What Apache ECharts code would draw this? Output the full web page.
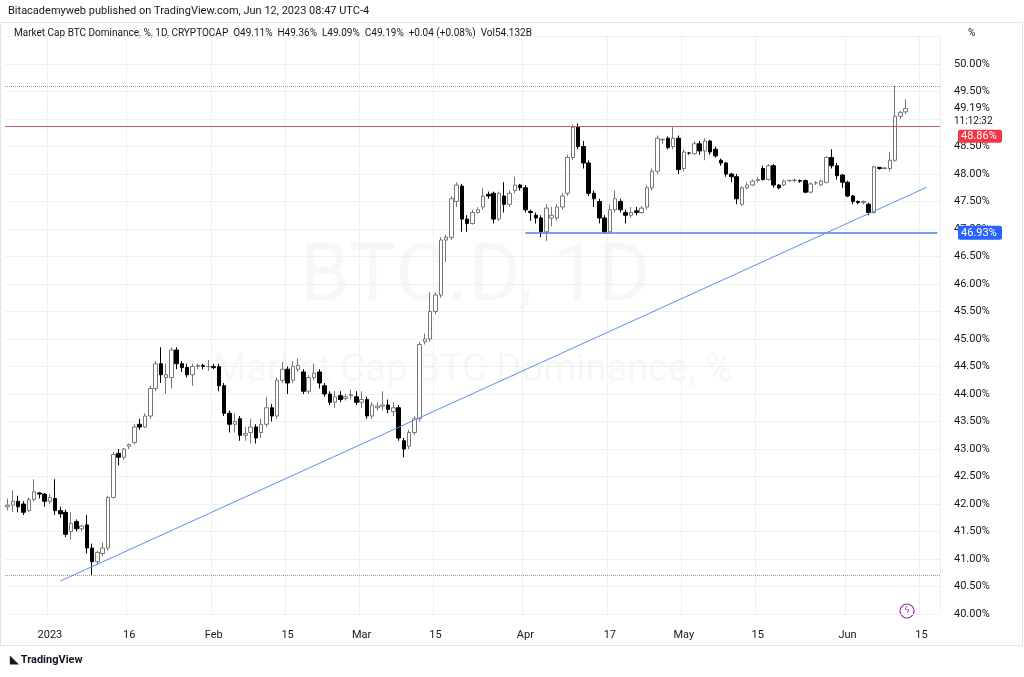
<!DOCTYPE html>
<html><head><meta charset="utf-8">
<script src="https://cdn.jsdelivr.net/npm/echarts@6/dist/echarts.min.js"></script>
<style>html,body{margin:0;padding:0;background:#fff}#c{width:1024px;height:677px}</style>
</head><body><div id="c"></div>
<script>
// [open, close, low, high]
const candles = [
[41.95,41.98,41.88,42.1],[41.98,42.05,41.85,42.25],[42.05,41.95,41.85,42.15],[42.0,41.85,41.8,42.05],
[41.88,42.08,41.85,42.12],[42.08,42.22,42.05,42.45],[42.2,42.18,42.1,42.22],[42.18,42.05,41.95,42.2],
[42.05,42.12,42.0,42.18],[42.1,41.88,41.8,42.45],[41.88,41.82,41.75,41.95],[41.85,41.45,41.4,41.9],
[41.5,41.65,41.35,41.85],[41.68,41.55,41.5,41.72],[41.55,41.6,41.5,41.62],[41.62,41.2,41.1,41.8],
[41.2,40.95,40.7,41.28],[40.95,41.12,40.9,41.15],[41.1,41.2,41.05,41.3],[41.2,42.12,41.15,42.15],
[42.12,42.9,42.1,42.95],[42.92,42.85,42.7,43.0],[42.85,43.0,42.8,43.02],[43.05,43.08,43.0,43.1],
[43.12,43.4,43.08,43.45],[43.45,43.4,43.35,43.55],[43.4,43.6,43.38,43.65],[43.6,44.1,43.55,44.15],
[44.1,44.55,44.05,44.6],[44.55,44.35,44.2,44.85],[44.3,44.35,44.0,44.55],[44.3,44.8,44.1,44.85],
[44.8,44.55,44.45,44.85],[44.55,44.48,44.4,44.6],[44.48,44.35,44.3,44.55],[44.35,44.5,44.15,44.55],
[44.5,44.52,44.45,44.55],[44.52,44.5,44.45,44.55],[44.5,44.5,44.42,44.62],[44.5,44.48,44.45,44.55],
[44.5,44.15,44.05,44.55],[44.15,43.65,43.6,44.2],[43.65,43.45,43.3,43.7],[43.45,43.5,43.3,43.65],
[43.55,43.25,43.15,43.6],[43.25,43.28,43.15,43.4],[43.3,43.4,43.1,43.55],[43.4,43.2,43.1,43.45],
[43.3,43.45,43.2,43.55],[43.45,43.75,43.4,43.95],[43.75,43.6,43.5,43.82],[43.6,44.25,43.55,44.3],
[44.25,44.45,44.2,44.58],[44.45,44.2,44.0,44.5],[44.25,44.5,44.2,44.6],[44.45,44.52,44.4,44.65],
[44.4,44.05,44.0,44.45],[44.05,44.3,44.0,44.35],[44.3,44.38,44.25,44.55],[44.4,44.2,44.1,44.45],
[44.15,44.0,43.95,44.2],[44.0,43.85,43.8,44.05],[43.85,43.95,43.75,44.05],[43.97,43.9,43.85,44.05],
[43.92,43.95,43.88,44.0],[43.97,43.99,43.9,44.08],[43.95,43.85,43.8,44.05],[43.85,43.9,43.75,44.05],
[43.9,43.6,43.55,43.95],[43.6,43.8,43.55,43.85],[43.75,43.78,43.7,43.85],[43.78,43.8,43.7,44.05],
[43.8,43.72,43.65,43.9],[43.68,43.75,43.6,43.85],[43.75,43.2,43.15,43.8],[43.15,43.0,42.85,43.2],
[43.05,43.3,43.0,43.35],[43.3,43.55,43.25,43.6],[43.55,44.9,43.5,44.95],[44.95,45.0,44.9,45.1],
[45.0,45.5,44.95,45.85],[45.5,45.8,45.45,45.85],[45.8,46.8,45.75,46.85],[46.8,46.85,46.4,46.9],
[46.85,47.55,46.8,47.6],[47.5,47.8,47.4,47.85],[47.78,47.18,46.95,47.82],[47.18,47.1,46.95,47.25],
[47.1,47.3,47.08,47.35],[47.3,47.35,47.28,47.4],[47.4,47.6,47.35,47.75],[47.63,47.6,47.55,47.68],
[47.65,47.18,47.1,47.68],[47.18,47.65,47.15,47.68],[47.6,47.45,47.3,47.85],[47.45,47.65,47.4,47.7],
[47.7,47.8,47.65,47.95],[47.8,47.75,47.7,47.82],[47.75,47.35,47.3,47.8],[47.32,47.3,47.15,47.35],
[47.25,47.2,47.1,47.3],[47.2,46.95,46.85,47.25],[46.95,47.38,46.78,47.45],[47.2,47.25,47.05,47.4],
[47.2,47.4,47.15,47.45],[47.4,47.6,47.35,47.65],[47.65,48.3,47.6,48.35],[48.3,48.85,48.25,48.9],
[48.85,48.5,48.45,48.92],[48.5,48.2,48.1,48.6],[48.2,47.65,47.6,48.25],[47.65,47.55,47.4,47.7],
[47.5,47.2,47.1,47.55],[47.2,46.95,46.92,47.25],[46.95,47.35,46.92,47.45],[47.35,47.55,47.3,47.7],
[47.5,47.35,47.3,47.55],[47.3,47.25,47.1,47.35],[47.25,47.3,47.2,47.4],[47.33,47.3,47.25,47.4],
[47.3,47.38,47.28,47.42],[47.4,47.75,47.35,47.8],[47.75,48.05,47.7,48.1],[48.05,48.65,48.0,48.7],
[48.62,48.63,48.55,48.65],[48.65,48.48,48.45,48.68],[48.5,48.65,48.45,48.85],[48.65,48.08,48.0,48.7],
[48.1,48.4,48.05,48.45],[48.38,48.38,48.35,48.4],[48.37,48.55,48.35,48.6],[48.55,48.42,48.35,48.6],
[48.42,48.6,48.25,48.65],[48.6,48.4,48.35,48.62],[48.45,48.33,48.3,48.5],[48.25,48.2,48.15,48.28],
[48.2,48.0,47.95,48.22],[48.0,47.95,47.85,48.02],[47.95,47.55,47.45,48.0],[47.45,47.75,47.42,47.78],
[47.75,47.8,47.72,47.85],[47.8,47.87,47.78,47.9],[47.88,47.9,47.85,47.95],[48.1,47.9,47.88,48.15],
[47.9,48.15,47.88,48.18],[48.15,47.8,47.75,48.18],[47.8,47.75,47.72,47.82],[47.8,47.87,47.78,47.9],
[47.88,47.88,47.85,47.9],[47.88,47.89,47.85,47.92],[47.88,47.87,47.84,47.9],[47.88,47.67,47.65,47.9],
[47.67,47.82,47.65,47.85],[47.84,47.84,47.8,47.87],[47.8,47.87,47.78,47.9],[47.85,48.3,47.83,48.32],
[48.3,48.15,48.1,48.45],[48.15,47.97,47.9,48.2],[47.98,47.85,47.75,48.0],[47.85,47.6,47.58,47.88],
[47.6,47.5,47.45,47.62],[47.5,47.48,47.45,47.52],[47.48,47.5,47.45,47.52],[47.45,47.3,47.25,47.48],
[47.3,48.13,47.28,48.15],[48.12,48.1,48.08,48.13],[48.1,48.11,48.08,48.13],[48.1,48.25,48.05,48.4],
[48.25,49.05,48.22,49.6],[49.05,49.12,49.0,49.15],[49.13,49.19,49.09,49.36]
];
const startDate = '2022-12-24';
const extraDays = 6;
const tickLabels = {'2023-01-01':'2023','2023-01-16':'16','2023-02-01':'Feb','2023-02-15':'15','2023-03-01':'Mar',
 '2023-03-15':'15','2023-04-01':'Apr','2023-04-17':'17','2023-05-01':'May','2023-05-15':'15','2023-06-01':'Jun','2023-06-15':'15'};
const priceLine = 48.86, supportLevel = 46.93, supportStart = '2023-04-01';
const trendStart = ['2023-01-03', 40.6], trendEnd = ['2023-06-16', 47.76];
const highLine = 49.6, lowLine = 40.7;

const dates = [];
{const d = new Date(startDate+'T00:00:00Z');
 for (let i=0;i<candles.length+extraDays;i++){dates.push(d.toISOString().slice(0,10)); d.setUTCDate(d.getUTCDate()+1);}}

const up = {color:'#ffffff', color0:'#000000', borderColor:'#777777', borderColor0:'#000000', borderWidth:1};
const chart = echarts.init(document.getElementById('c'));
const showTick = (i,v)=> tickLabels[v]!==undefined;
chart.setOption({
 animation:false,
 grid:{left:5,right:84,top:36.5,bottom:63},
 xAxis:{type:'category',data:dates,boundaryGap:true,offset:8,
  axisLine:{show:false},axisTick:{show:false},
  axisLabel:{interval:showTick,formatter:v=>tickLabels[v]||'',color:'#131722',fontSize:11,fontFamily:'Roboto'},
  splitLine:{show:true,interval:showTick,lineStyle:{color:'#f0f0f0'}}},
 yAxis:{type:'value',position:'right',min:40,max:50.5,interval:0.5,
  axisLine:{show:false},axisTick:{show:false},
  axisLabel:{formatter:v=>v>=50.5?'':v.toFixed(2)+'%',color:'#131722',fontSize:11,fontFamily:'Roboto',margin:14},
  splitLine:{lineStyle:{color:'#f0f0f0'}}},
 series:[{type:'candlestick',data:candles,barWidth:4,itemStyle:up,
  markLine:{symbol:'none',silent:true,animation:false,label:{show:false},data:[
   {yAxis:priceLine,lineStyle:{color:'#d05a5a',width:1,type:'solid'}},
   {yAxis:highLine,lineStyle:{color:'#999',width:1,type:'dotted'}},
   {yAxis:lowLine,lineStyle:{color:'#999',width:1,type:'dotted'}},
   [{coord:[supportStart,supportLevel],lineStyle:{color:'#4d7fef',width:1.5,type:'solid'}},{coord:[dates[dates.length-1],supportLevel]}],
   [{coord:trendStart,lineStyle:{color:'#5b8def',width:1,type:'solid'}},{coord:trendEnd}]
  ]}}],
 graphic:[
  {type:'text',left:8,top:6,style:{text:'Bitacademyweb published on TradingView.com, Jun 12, 2023 08:47 UTC-4',fill:'#131722',font:'11px Roboto'}},
  {type:'rect',shape:{x:0.5,y:22.5,width:1022,height:623},style:{fill:'none',stroke:'#e0e3eb'}},
  {type:'text',left:14,top:28,style:{text:'Market Cap BTC Dominance, %, 1D, CRYPTOCAP  O49.11%  H49.36%  L49.09%  C49.19%  +0.04 (+0.08%)  Vol54.132B',fill:'#131722',font:'10px Roboto'}},
  {type:'text',left:968,top:28,style:{text:'%',fill:'#131722',font:'10px Roboto'}},
  {type:'text',left:300,top:240,z:-1,style:{text:'BTC.D, 1D',fill:'rgba(120,123,134,0.06)',font:'80px Roboto'}},
  {type:'text',left:213,top:352,z:-1,style:{text:'Market Cap BTC Dominance, %',fill:'rgba(120,123,134,0.06)',font:'38px Roboto'}},
  {type:'text',left:10,top:655,style:{text:'\u25E3 TradingView',fill:'#131722',font:'bold 11px Roboto'}},
  {type:'circle',shape:{cx:907,cy:611,r:7},style:{fill:'none',stroke:'#9c27b0',lineWidth:1.2}},
  {type:'text',x:907,y:611,style:{text:'\u03DF',fill:'#9c27b0',font:'9px DejaVu Sans',align:'center',verticalAlign:'middle'}}
 ]
});
const yOf = v => chart.convertToPixel({yAxisIndex:0},v);
const badges = [];
badges.push({type:'rect',shape:{x:950,y:yOf(49.19)-7,width:60,height:27},style:{fill:'#fff'}});
badges.push({type:'text',x:954,y:yOf(49.19),style:{text:'49.19%',fill:'#131722',font:'11px Roboto',verticalAlign:'middle'}});
badges.push({type:'text',x:954,y:yOf(49.19)+13,style:{text:'11:12:32',fill:'#131722',font:'10px Roboto',verticalAlign:'middle'}});
badges.push({type:'rect',shape:{x:958,y:yOf(priceLine)+3,width:44,height:13,r:2},style:{fill:'#f23645'}});
badges.push({type:'text',x:961,y:yOf(priceLine)+10,style:{text:priceLine.toFixed(2)+'%',fill:'#fff',font:'11px Roboto',verticalAlign:'middle'}});
badges.push({type:'rect',shape:{x:958,y:yOf(supportLevel)-7,width:44,height:14,r:2},style:{fill:'#2962ff'}});
badges.push({type:'text',x:961,y:yOf(supportLevel),style:{text:supportLevel.toFixed(2)+'%',fill:'#fff',font:'11px Roboto',verticalAlign:'middle'}});
const zr = chart.getZr();
badges.forEach(b=>{const C = b.type==='rect'?echarts.graphic.Rect:echarts.graphic.Text; zr.add(new C({shape:b.shape,style:b.style,x:b.x||0,y:b.y||0,z:100}));});
</script></body></html>
